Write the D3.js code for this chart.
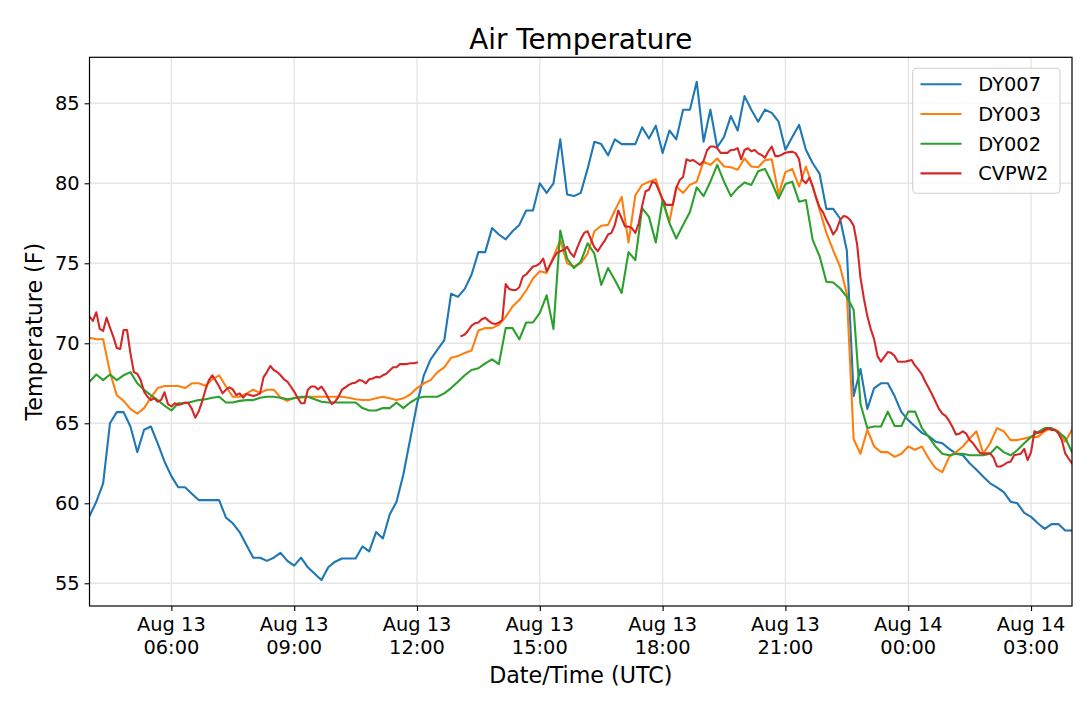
<!DOCTYPE html>
<html><head><meta charset="utf-8">
<script src="https://cdn.jsdelivr.net/npm/d3@7"></script>
<style>body{margin:0;background:#fff;} svg{display:block;font-family:"DejaVu Sans",sans-serif;}</style>
</head><body><svg id="chart" width="1080" height="709"></svg>
<script>
// ---------------- data ----------------
const seriesNames = ["DY007", "DY003", "DY002", "CVPW2"];
const seriesColors = ["#1f77b4", "#ff7f0e", "#2ca02c", "#d62728"];
const startTime = "2019-08-13T04:00:00Z";
const endTime = "2019-08-14T04:00:00Z";
const stepMinutesDY = 10;   // DY stations: 10-minute readings
const stepMinutesCV = 5;    // CVPW2: 5-minute readings
const yTicks = [55, 60, 65, 70, 75, 80, 85];

const dy007 = [59.2,60.1,61.25,65.0,65.7,65.7,64.8,63.2,64.6,64.8,
 63.75,62.6,61.7,61.0,61.0,60.6,60.2,60.2,60.2,60.2,
 59.1,58.75,58.2,57.4,56.6,56.6,56.4,56.6,56.9,56.4,
 56.1,56.6,56.0,55.6,55.2,56.0,56.35,56.55,56.55,56.55,
 57.3,57.0,58.2,57.8,59.3,60.1,61.8,64.0,66.2,68.0,
 69.0,69.6,70.2,73.1,72.9,73.4,74.3,75.7,75.7,77.2,
 76.8,76.5,77.0,77.4,78.3,78.3,80.0,79.4,80.0,82.75,
 79.3,79.2,79.4,80.9,82.6,82.45,81.75,82.75,82.45,82.45,
 82.45,83.5,82.8,83.6,81.9,83.3,82.75,84.6,84.6,86.35,
 82.6,84.6,82.25,82.9,84.2,83.3,85.45,84.6,83.85,84.6,
 84.4,83.85,82.1,82.9,83.65,82.1,81.25,80.6,78.4,78.4,
 77.8,75.8,66.7,68.4,65.9,67.2,67.5,67.5,66.7,65.7,
 65.2,64.8,64.4,64.2,63.85,63.75,63.4,63.1,63.0,62.5,
 62.1,61.66,61.25,61.0,60.7,60.1,60.0,59.4,59.15,58.75,
 58.4,58.7,58.7,58.3,58.3];

const dy003 = [70.35,70.25,70.25,68.2,66.75,66.4,65.9,65.6,65.95,66.6,
 67.2,67.33,67.33,67.33,67.2,67.5,67.5,67.35,67.75,68.0,
 67.3,66.66,66.66,66.85,67.1,66.9,67.1,67.1,66.6,66.4,
 66.6,66.6,66.66,66.66,66.66,66.66,66.66,66.66,66.6,66.5,
 66.46,66.46,66.56,66.66,66.56,66.46,66.56,66.8,67.2,67.5,
 67.7,68.2,68.5,69.1,69.2,69.4,69.55,70.8,70.95,70.95,
 71.15,71.65,72.3,72.7,73.3,74.05,74.5,74.4,75.4,76.45,
 75.0,74.8,75.0,75.6,77.0,77.35,77.4,78.3,79.15,76.3,
 79.25,79.9,80.1,80.25,78.9,77.6,79.8,79.4,79.9,80.1,
 81.35,81.15,81.55,81.05,81.0,80.85,81.55,81.05,81.0,81.45,
 81.5,79.3,80.7,80.9,79.8,81.05,79.8,78.35,76.9,75.8,
 74.8,73.1,64.0,63.1,64.6,63.55,63.2,63.2,62.9,63.1,
 63.55,63.35,63.55,62.8,62.2,61.95,62.9,63.2,63.55,64.05,
 64.5,63.1,63.75,64.7,64.5,63.95,63.95,64.05,64.15,64.15,
 64.5,64.7,64.5,63.85,64.6];

const dy002 = [67.6,68.05,67.7,68.05,67.7,68.0,68.2,67.5,67.1,66.75,
 66.45,66.1,65.8,66.25,66.25,66.35,66.45,66.5,66.6,66.66,
 66.3,66.3,66.4,66.45,66.45,66.6,66.66,66.66,66.6,66.5,
 66.56,66.66,66.66,66.5,66.35,66.3,66.3,66.3,66.3,66.3,
 65.95,65.8,65.8,65.95,65.95,66.3,65.95,66.3,66.56,66.66,
 66.66,66.66,66.87,67.2,67.6,68.0,68.33,68.44,68.75,69.0,
 68.7,70.95,70.95,70.25,71.3,71.3,71.9,73.0,70.9,77.05,
 75.3,74.7,75.1,76.25,75.6,73.65,74.7,73.95,73.15,75.7,
 75.2,78.45,77.9,76.3,78.95,77.5,76.55,77.4,78.2,79.75,
 79.2,80.1,81.15,80.1,79.2,79.7,80.05,79.9,80.75,80.9,
 80.05,79.05,79.95,80.1,78.85,78.95,76.45,75.45,73.85,73.8,
 73.44,72.9,72.1,66.2,64.7,64.8,64.8,65.73,64.83,64.83,
 65.73,65.73,64.7,64.15,63.55,63.1,63.0,63.1,63.1,63.0,
 63.0,63.0,63.1,63.55,63.2,63.0,63.33,63.75,64.15,64.45,
 64.7,64.7,64.45,64.1,63.2];

const cvpw2 = [71.66,71.4,71.94,70.9,70.77,71.6,70.98,70.4,69.7,69.64,
 70.83,70.83,69.37,68.2,68.1,67.7,66.98,66.66,66.46,66.56,
 66.35,66.46,66.94,66.2,66.05,66.25,66.14,66.2,66.3,66.25,
 65.9,65.35,65.73,66.35,67.1,67.7,68.0,67.66,67.3,66.87,
 67.1,67.25,67.12,66.77,66.87,66.6,66.83,66.77,66.7,66.77,
 66.87,67.87,68.2,68.58,68.33,68.2,68.0,67.75,67.6,67.3,
 66.98,66.6,66.25,66.25,67.1,67.3,67.3,67.12,67.3,66.98,
 66.56,66.2,66.35,66.66,67.1,67.25,67.4,67.5,67.54,67.7,
 67.66,67.5,67.75,67.8,67.9,67.87,68.0,68.1,68.3,68.5,
 68.5,68.7,68.7,68.7,68.75,68.75,68.8,
 null,null,null,null,null,null,null,null,null,null,null,null,
 70.45,70.55,70.8,71.1,71.25,71.3,71.5,71.6,71.4,71.25,71.2,
 71.3,71.45,73.7,73.4,73.33,73.33,73.5,74.16,74.3,74.55,
 74.8,74.85,75.0,75.3,74.5,74.9,75.3,75.65,75.75,75.83,
 76.04,75.65,75.4,76.0,76.5,76.9,77.0,76.5,76.0,75.75,
 76.1,76.4,76.8,76.9,77.4,78.3,77.8,77.3,77.29,77.2,
 76.9,77.5,78.6,79.5,79.6,80.1,80.0,79.5,79.0,78.65,
 78.65,78.65,79.7,80.2,80.4,81.5,81.4,81.45,81.3,81.15,
 81.4,82.05,82.3,82.3,82.2,81.9,81.9,81.9,82.08,82.1,
 82.2,81.5,82.08,82.19,82.0,82.08,81.87,81.77,81.6,82.0,
 82.3,81.7,81.7,81.8,81.91,81.95,81.98,81.87,81.5,80.2,
 80.0,80.35,79.8,79.1,78.5,78.2,77.7,77.3,76.8,77.1,
 77.7,77.95,77.9,77.7,77.35,76.2,74.1,72.8,71.7,70.9,
 70.25,69.2,68.85,69.15,69.45,69.4,69.2,68.85,68.85,68.85,
 68.9,68.95,68.6,68.35,68.05,67.6,67.2,66.8,66.35,65.9,
 65.6,65.45,65.15,64.75,64.3,64.35,64.5,64.35,63.95,63.75,
 63.45,63.15,63.1,63.12,63.12,62.85,62.3,62.3,62.4,62.55,
 62.6,63.0,63.05,63.1,63.4,62.7,63.2,64.5,64.4,64.45,
 64.58,64.69,64.58,64.58,64.37,63.96,63.12,62.8,62.5];

const seriesValues = [dy007, dy003, dy002, cvpw2];
const seriesSteps = [stepMinutesDY, stepMinutesDY, stepMinutesDY, stepMinutesCV];

// ---------------- layout ----------------
const W = 1080, H = 709;
const plot = {left: 89.5, right: 1072, top: 57.3, bottom: 606};
const FONT_TICK = 19.4, FONT_LABEL = 22.2, FONT_TITLE = 27.8, FONT_LEG = 19.4;

const svg = d3.select("#chart");
svg.append("rect").attr("width", W).attr("height", H).attr("fill", "#fff");

const t0 = new Date(startTime), t1 = new Date(endTime);
const x = d3.scaleUtc().domain([t0, t1]).range([plot.left, plot.right]);
const y = d3.scaleLinear().domain([53.58, 87.875]).range([plot.bottom, plot.top]);

const majorTicks = d3.utcHour.every(3).range(t0, new Date(+t1 + 1)).filter(d => d > t0 && d < t1);
const minorTicks = d3.utcHour.every(1).range(t0, new Date(+t1 + 1)).filter(d => d > t0 && d < t1);

// grid
const grid = svg.append("g").attr("stroke", "#e6e6e6").attr("stroke-width", 1.4);
grid.selectAll(".gx").data(majorTicks).join("line")
  .attr("x1", d => x(d)).attr("x2", d => x(d)).attr("y1", plot.top).attr("y2", plot.bottom);
grid.selectAll(".gy").data(yTicks).join("line")
  .attr("y1", d => y(d)).attr("y2", d => y(d)).attr("x1", plot.left).attr("x2", plot.right);

// clip
svg.append("defs").append("clipPath").attr("id", "clip").append("rect")
  .attr("x", plot.left).attr("y", plot.top).attr("width", plot.right - plot.left).attr("height", plot.bottom - plot.top);

const gLines = svg.append("g").attr("clip-path", "url(#clip)");
seriesValues.forEach((vals, k) => {
  const step = seriesSteps[k];
  const pts = vals.map((v, i) => ({t: new Date(+t0 + i * step * 60000), v}));
  const line = d3.line().defined(d => d.v !== null).x(d => x(d.t)).y(d => y(d.v));
  gLines.append("path").datum(pts).attr("d", line)
    .attr("fill", "none").attr("stroke", seriesColors[k]).attr("stroke-width", 2.1)
    .attr("stroke-linejoin", "round").attr("stroke-linecap", "square");
});

// x axis (bottom)
const xAxis = svg.append("g").attr("transform", `translate(0,${plot.bottom})`);
xAxis.call(d3.axisBottom(x).tickValues(minorTicks).tickSize(2.8).tickFormat(""));
xAxis.call(d3.axisBottom(x).tickValues(majorTicks).tickSize(4.9).tickPadding(4.9)
   .tickFormat(() => ""));
xAxis.selectAll(".domain").remove();
xAxis.selectAll("line").attr("stroke", "#000").attr("stroke-width", 1.1);

const fmtDay = d3.utcFormat("%b %d"), fmtTime = d3.utcFormat("%H:%M");
const xl = svg.append("g").attr("font-size", FONT_TICK).attr("fill", "#000").attr("text-anchor", "middle");
majorTicks.forEach(d => {
  const t = xl.append("text").attr("x", x(d)).attr("y", 630.5);
  t.append("tspan").attr("x", x(d)).text(fmtDay(d));
  t.append("tspan").attr("x", x(d)).attr("dy", FONT_TICK * 1.2).text(fmtTime(d));
});

// y axis
const yAxis = svg.append("g").attr("transform", `translate(${plot.left},0)`);
yAxis.call(d3.axisLeft(y).tickValues(yTicks).tickSize(4.9).tickPadding(4.9).tickFormat(d3.format("d")));
yAxis.selectAll(".domain").remove();
yAxis.selectAll("line").attr("stroke", "#000").attr("stroke-width", 1.1);
yAxis.selectAll("text").attr("font-size", FONT_TICK).attr("font-family", "DejaVu Sans").attr("fill", "#000");

// spines
svg.append("rect").attr("x", plot.left).attr("y", plot.top)
  .attr("width", plot.right - plot.left).attr("height", plot.bottom - plot.top)
  .attr("fill", "none").attr("stroke", "#000").attr("stroke-width", 1.2);

// labels
svg.append("text").attr("x", (plot.left + plot.right) / 2).attr("y", 49)
  .attr("text-anchor", "middle").attr("font-size", FONT_TITLE).text("Air Temperature");
svg.append("text").attr("x", (plot.left + plot.right) / 2).attr("y", 683)
  .attr("text-anchor", "middle").attr("font-size", FONT_LABEL).text("Date/Time (UTC)");
svg.append("text").attr("transform", `translate(42,${(plot.top + plot.bottom) / 2}) rotate(-90)`)
  .attr("text-anchor", "middle").attr("font-size", FONT_LABEL).text("Temperature (F)");

// legend
const leg = svg.append("g");
leg.append("rect").attr("x", 912.7).attr("y", 68.3).attr("width", 147.3).attr("height", 125)
  .attr("rx", 4).attr("fill", "#fff").attr("fill-opacity", 0.8).attr("stroke", "#d0d0d0").attr("stroke-width", 1.1);
seriesNames.forEach((name, k) => {
  const cy = 84.3 + k * 29.7;
  leg.append("line").attr("x1", 920.5).attr("x2", 961.5).attr("y1", cy).attr("y2", cy)
    .attr("stroke", seriesColors[k]).attr("stroke-width", 2.1);
  leg.append("text").attr("x", 978.3).attr("y", cy + 7).attr("font-size", FONT_LEG).text(name);
});
</script></body></html>
